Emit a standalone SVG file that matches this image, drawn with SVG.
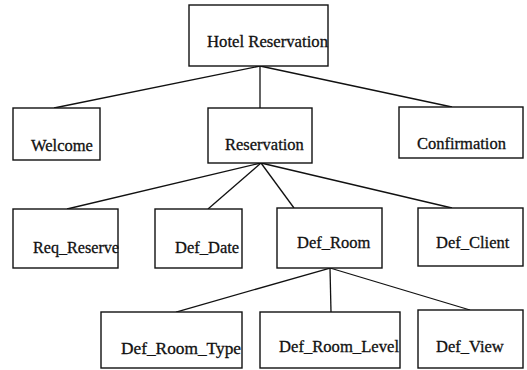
<svg xmlns="http://www.w3.org/2000/svg" width="527" height="370" viewBox="0 0 527 370">
<style>
.box{fill:#fff;stroke:#111;stroke-width:1.4}
.lbl{font-family:"Liberation Serif","Times New Roman",serif;font-size:16.5px;fill:#111;stroke:#111;stroke-width:0.3}
.con line{stroke:#111;stroke-width:1.3}
</style>
<rect width="527" height="370" fill="#fff"/>
<g id="connectors" class="con">
<line x1="260" y1="66" x2="54" y2="108"/>
<line x1="260" y1="66" x2="260" y2="108"/>
<line x1="260" y1="66" x2="452" y2="107"/>
<line x1="261" y1="163" x2="67" y2="209"/>
<line x1="261" y1="163" x2="208" y2="209"/>
<line x1="261" y1="163" x2="294" y2="208"/>
<line x1="261" y1="163" x2="452" y2="208"/>
<line x1="330" y1="268" x2="176" y2="312"/>
<line x1="330" y1="268" x2="331" y2="312"/>
<line x1="330" y1="268" x2="470" y2="310"/>
</g>
<g id="hotel_reservation"><rect class="box" x="189" y="5" width="139" height="61"/><text class="lbl" x="207" y="47" textLength="121" lengthAdjust="spacingAndGlyphs">Hotel Reservation</text></g>
<g id="welcome"><rect class="box" x="13" y="108" width="87" height="52"/><text class="lbl" x="31" y="151">Welcome</text></g>
<g id="reservation"><rect class="box" x="208" y="108" width="104" height="55"/><text class="lbl" x="225" y="150">Reservation</text></g>
<g id="confirmation"><rect class="box" x="399" y="107" width="124" height="51"/><text class="lbl" x="417" y="149">Confirmation</text></g>
<g id="req_reserve"><rect class="box" x="13" y="209" width="105" height="59"/><text class="lbl" x="33" y="253" textLength="86" lengthAdjust="spacingAndGlyphs">Req_Reserve</text></g>
<g id="def_date"><rect class="box" x="155" y="209" width="87" height="59"/><text class="lbl" x="175" y="253">Def_Date</text></g>
<g id="def_room"><rect class="box" x="277" y="208" width="105" height="60"/><text class="lbl" x="297" y="248">Def_Room</text></g>
<g id="def_client"><rect class="box" x="418" y="208" width="105" height="58"/><text class="lbl" x="436" y="248">Def_Client</text></g>
<g id="def_room_type"><rect class="box" x="101" y="312" width="141" height="56"/><text class="lbl" x="121" y="354" textLength="120" lengthAdjust="spacingAndGlyphs">Def_Room_Type</text></g>
<g id="def_room_level"><rect class="box" x="260" y="312" width="140" height="56"/><text class="lbl" x="279" y="352" textLength="120" lengthAdjust="spacingAndGlyphs">Def_Room_Level</text></g>
<g id="def_view"><rect class="box" x="418" y="310" width="105" height="58"/><text class="lbl" x="436" y="352">Def_View</text></g>
</svg>
